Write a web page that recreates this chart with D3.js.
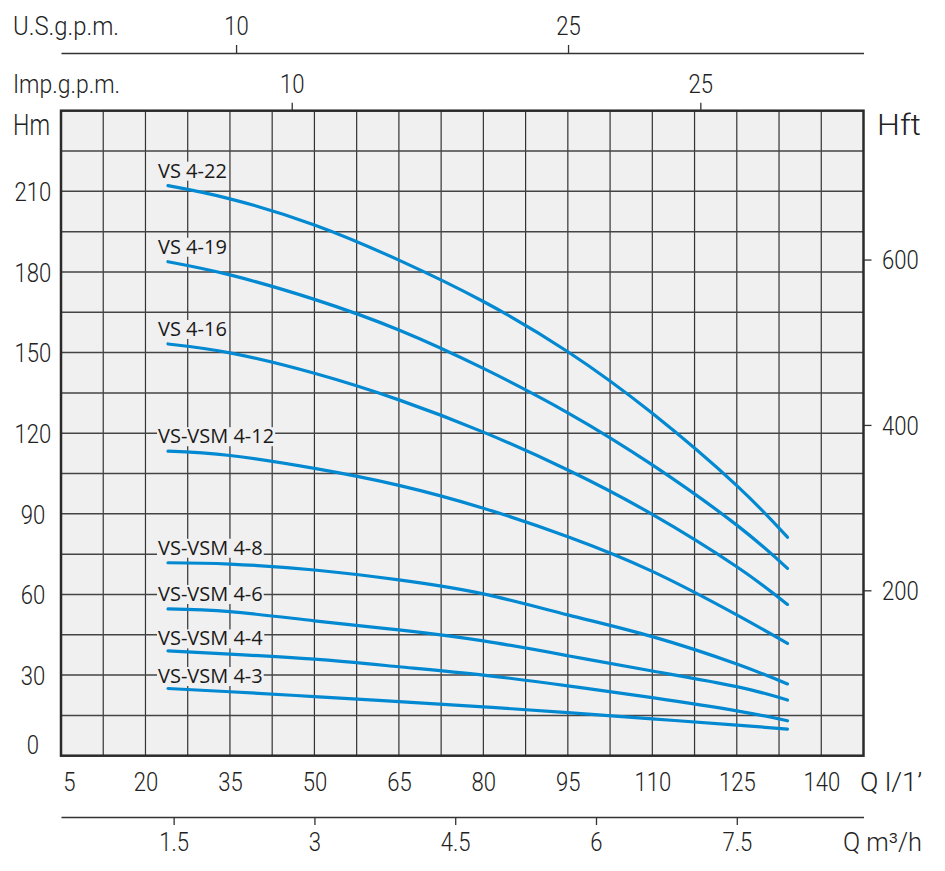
<!DOCTYPE html>
<html>
<head>
<meta charset="utf-8">
<script src="https://cdn.jsdelivr.net/npm/d3@7"></script>
<style>
  body { margin: 0; background: #fff; }
  svg { display: block; }
</style>
</head>
<body>
<svg id="chart"></svg>
<script>
// flow rate points (l/min) shared by all curves
const flows = [24, 35, 50, 65, 80, 95, 110, 125, 134];

const models = ["VS 4-22", "VS 4-19", "VS 4-16", "VS-VSM 4-12",
                "VS-VSM 4-8", "VS-VSM 4-6", "VS-VSM 4-4", "VS-VSM 4-3"];

// head (m) at each flow point
const head422 = [212.1, 207.2, 197.5, 184.4, 169.0, 150.3, 127.4, 100.5, 81.3];
const head419 = [183.8, 178.9, 169.8, 158.4, 144.1, 127.6, 108.2, 85.8, 69.7];
const head416 = [153.2, 149.9, 142.3, 132.4, 120.4, 106.3, 89.8, 70.3, 56.3];
const head412 = [113.3, 111.7, 106.9, 100.6, 92.1, 81.5, 68.6, 52.4, 41.8];
const head48  = [71.8, 71.3, 69.1, 65.4, 60.2, 52.4, 44.3, 34.1, 26.7];
const head46  = [54.6, 53.6, 50.2, 46.8, 42.7, 37.2, 31.5, 25.7, 20.7];
const head44  = [39.0, 37.8, 35.9, 33.1, 30.0, 26.0, 21.6, 16.7, 13.0];
const head43  = [25.0, 23.8, 22.0, 20.1, 18.2, 16.0, 13.7, 11.4, 9.9];

// tick labels
const hmTicks = [0, 30, 60, 90, 120, 150, 180, 210];
const hftTicks = [200, 400, 600];
const lminTicks = [5, 20, 35, 50, 65, 80, 95, 110, 125, 140];
const m3hTicks = [1.5, 3, 4.5, 6, 7.5];
const usGpmTicks = [10, 25];
const impGpmTicks = [10, 25];

const series = [head422, head419, head416, head412, head48, head46, head44, head43]
    .map((values, i) => ({name: models[i], values}));

// graph configuration
const W = 945, H = 871;
const plot = {left: 61, right: 863.5, top: 110.7, bottom: 755.7};
const blue = "#0389d1";
const ink = "#222";
const axisFamily = "Roboto, 'Liberation Sans', sans-serif";
const squeeze = 0.85; // narrow DIN-like look for axis digits

const x = d3.scaleLinear().domain([5, 147.5]).range([plot.left, plot.right]);
const y = d3.scaleLinear().domain([0, 240]).range([plot.bottom, plot.top]);
const yFt = d3.scaleLinear().domain([0, 780]).range([plot.bottom, plot.top]);
const xM3 = d3.scaleLinear().domain([5 * 0.06, 147.5 * 0.06]).range([plot.left, plot.right]);
// gallon scales as printed on the sheet
const xUs = d3.scaleLinear().domain([2.09, 38.35]).range([plot.left, plot.right]);
const xImp = d3.scaleLinear().domain([1.53, 30.99]).range([plot.left, plot.right]);

const svg = d3.select("#chart").attr("width", W).attr("height", H);

svg.append("rect")
    .attr("x", plot.left).attr("y", plot.top)
    .attr("width", plot.right - plot.left).attr("height", plot.bottom - plot.top)
    .attr("fill", "#f0f0f0");

// grid
const grid = svg.append("g").attr("stroke", "#333");
grid.selectAll("line.v").data(d3.range(12.5, 147.5, 7.5)).join("line")
    .attr("class", "v")
    .attr("x1", d => x(d)).attr("x2", d => x(d))
    .attr("y1", plot.top).attr("y2", plot.bottom)
    .attr("stroke-width", 1.2);
grid.selectAll("line.h").data(d3.range(15, 240, 15)).join("line")
    .attr("class", "h")
    .attr("x1", plot.left).attr("x2", plot.right)
    .attr("y1", d => y(d)).attr("y2", d => y(d))
    .attr("stroke", "#444")
    .attr("stroke-width", 1.5);

// curve labels with a patch of background behind them
const labels = svg.append("g");
series.forEach((s, i) => {
    const lift = i < 6 ? 8 : 5.5;
    const lx = x(flows[0]) - 10, ly = y(s.values[0]) - lift;
    const bg = labels.append("rect").attr("fill", "#f0f0f0");
    const t = labels.append("text")
        .attr("x", lx).attr("y", ly)
        .attr("font-family", "'Open Sans', 'Noto Sans', sans-serif")
        .attr("font-size", 20)
        .attr("fill", "#1a1a1a")
        .text(s.name);
    const b = t.node().getBBox();
    bg.attr("x", b.x - 1).attr("width", b.width + 2)
      .attr("y", ly - 16).attr("height", 19);
});

// pump curves
const line = d3.line()
    .x((d, i) => x(flows[i]))
    .y(d => y(d))
    .curve(d3.curveNatural);

svg.append("g").selectAll("path").data(series).join("path")
    .attr("d", d => line(d.values))
    .attr("fill", "none")
    .attr("stroke", blue)
    .attr("stroke-width", 3.2)
    .attr("stroke-linecap", "round");

// frame
svg.append("rect")
    .attr("x", plot.left).attr("y", plot.top)
    .attr("width", plot.right - plot.left).attr("height", plot.bottom - plot.top)
    .attr("fill", "none")
    .attr("stroke", "#2a2a2a")
    .attr("stroke-width", 2.5);

const styleAxis = g => {
    g.attr("font-family", axisFamily).attr("font-size", 26).attr("font-weight", 300);
    g.selectAll(".tick line").attr("stroke", "#333").attr("stroke-width", 1.3);
    g.selectAll(".domain").attr("stroke", "#333").attr("stroke-width", 1.5);
    g.selectAll(".tick text").attr("fill", ink).attr("dy", null)
        .attr("transform", `scale(${squeeze},1)`);
};

// left Hm
svg.append("g")
    .attr("transform", "translate(33,0)")
    .call(d3.axisLeft(y).tickValues(hmTicks).tickSize(0))
    .call(g => g.select(".domain").remove())
    .call(styleAxis)
    .call(g => g.selectAll(".tick text")
        .attr("x", 0).attr("text-anchor", "middle")
        .attr("y", d => d === 0 ? 9.2 - 11 : 9.2));

// right Hft
svg.append("g")
    .attr("transform", `translate(${plot.right},0)`)
    .call(d3.axisRight(yFt).tickValues(hftTicks).tickSize(8))
    .call(g => g.select(".domain").remove())
    .call(styleAxis)
    .call(g => g.selectAll(".tick text")
        .attr("x", 18.5 / squeeze).attr("y", 9.2).attr("text-anchor", "start"));

// bottom l/min
svg.append("g")
    .attr("transform", `translate(0,${plot.bottom})`)
    .call(d3.axisBottom(x).tickValues(lminTicks).tickSize(0))
    .call(g => g.select(".domain").remove())
    .call(styleAxis)
    .call(g => g.selectAll(".tick text")
        .attr("y", 35)
        .attr("x", d => d === 5 ? 8 / squeeze : 0));

// bottom m3/h
svg.append("g")
    .attr("transform", "translate(0,817)")
    .call(d3.axisBottom(xM3).tickValues(m3hTicks).tickSizeInner(8).tickSizeOuter(0)
        .tickFormat(d3.format("~g")))
    .call(styleAxis)
    .call(g => g.selectAll(".tick text").attr("y", 34));

// top US gpm
svg.append("g")
    .attr("transform", "translate(0,53)")
    .call(d3.axisTop(xUs).tickValues(usGpmTicks).tickSizeInner(8).tickSizeOuter(0))
    .call(styleAxis)
    .call(g => g.selectAll(".tick text").attr("y", -18));

// top Imp gpm
svg.append("g")
    .attr("transform", `translate(0,${plot.top})`)
    .call(d3.axisTop(xImp).tickValues(impGpmTicks).tickSizeInner(8).tickSizeOuter(0))
    .call(g => g.select(".domain").remove())
    .call(styleAxis)
    .call(g => g.selectAll(".tick text").attr("y", -17.7));

// unit names
const unit = (txt, ux, uy, len, size, adjust) => svg.append("text")
    .attr("x", ux).attr("y", uy)
    .attr("font-family", axisFamily).attr("font-weight", 300)
    .attr("font-size", size)
    .attr("textLength", len).attr("lengthAdjust", adjust || "spacingAndGlyphs")
    .attr("fill", ink)
    .text(txt);

unit("U.S.g.p.m.", 13, 35, 106, 26);
unit("Imp.g.p.m.", 13, 93, 107, 26);
unit("Hm", 13, 135, 37, 30);
unit("Hft", 877, 135, 44, 29);
unit("Q l/1’", 860, 791, 62, 26);
unit("Q m³/h", 843, 851, 79, 26);
</script>
</body>
</html>
